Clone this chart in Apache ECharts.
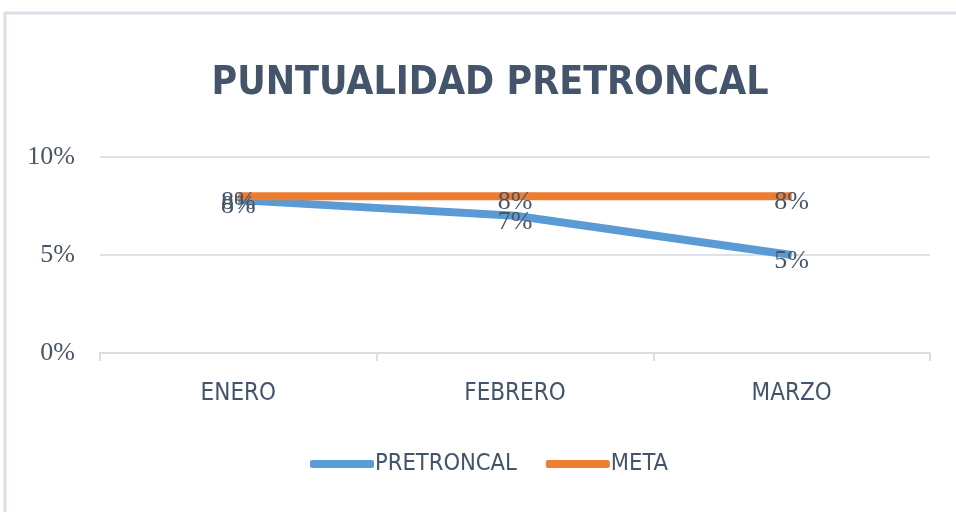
<!DOCTYPE html>
<html><head><meta charset="utf-8">
<script src="https://cdn.jsdelivr.net/npm/echarts@6/dist/echarts.min.js"></script>
<style>html,body{margin:0;padding:0;background:#fff}#c{width:956px;height:512px}</style>
</head><body><div id="c"></div>
<script>
const categories = ['ENERO', 'FEBRERO', 'MARZO'];
const pretroncal = [7.8, 7.0, 5.0];
const meta = [8, 8, 8];
const yTicks = [0, 5, 10];

const SANS = '"DejaVu Sans Condensed", "Liberation Sans Narrow", "Noto Sans", sans-serif';
const chart = echarts.init(document.getElementById('c'));
const labelStyle = {
  show: true, position: 'inside', offset: [0, 6],
  fontFamily: 'Liberation Serif', fontSize: 26, color: '#4a5668',
  formatter: p => Math.round(p.value) + '%'
};
chart.setOption({
  animation: false,
  graphic: [{ type: 'rect', shape: { x: 5, y: 13, width: 1000, height: 600 },
    style: { fill: 'none', stroke: '#dbe1e8', lineWidth: 3 }, z: -1 }],
  title: { text: 'PUNTUALIDAD PRETRONCAL', left: 485, textAlign: 'center', top: 59,
    textStyle: { fontFamily: SANS, fontWeight: 'bold', fontSize: 39, color: '#44546a' } },
  grid: { left: 100, right: 26, top: 157, bottom: 159 },
  legend: { bottom: 31, left: 305, itemWidth: 64, itemHeight: 8, itemGap: 29, icon: 'roundRect',
    textStyle: { fontFamily: SANS, fontSize: 23.5, color: '#44546a', padding: [0,0,0,-4] },
    data: ['PRETRONCAL', 'META'] },
  xAxis: { type: 'category', data: categories, boundaryGap: true,
    axisLine: { lineStyle: { color: '#d9dee5', width: 2 } },
    axisTick: { show: true, length: 8, lineStyle: { color: '#d9dee5', width: 2 } },
    axisLabel: { fontFamily: SANS, fontSize: 24, color: '#44546a', margin: 29 } },
  yAxis: { type: 'value', min: 0, max: 10, interval: 5,
    axisLine: { show: false }, axisTick: { show: false },
    splitLine: { lineStyle: { color: '#dde2e9', width: 2 } },
    axisLabel: { fontFamily: 'Liberation Serif', fontSize: 26, color: '#4a5668', margin: 25,
      formatter: v => yTicks.includes(v) ? v + '%' : '' } },
  series: [
    { name: 'PRETRONCAL', type: 'line', data: pretroncal, showSymbol: true, symbol: 'circle', symbolSize: 0.1,
      lineStyle: { color: '#5b9bd5', width: 8 }, itemStyle: { color: '#5b9bd5' }, label: labelStyle },
    { name: 'META', type: 'line', data: meta, showSymbol: true, symbol: 'circle', symbolSize: 0.1,
      lineStyle: { color: '#ed7d31', width: 8 }, itemStyle: { color: '#ed7d31' }, label: labelStyle }
  ]
});
</script></body></html>
